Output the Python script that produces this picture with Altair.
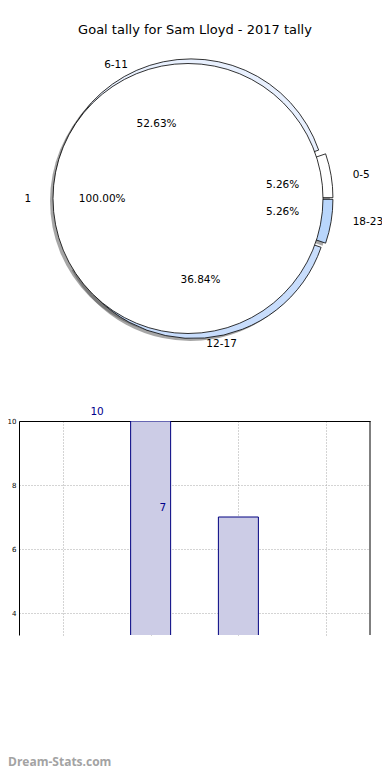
import altair as alt
import pandas as pd

# ---------------- data ----------------
title_text = "Goal tally for Sam Lloyd - 2017 tally"
watermark = "Dream-Stats.com"

slots = ["0-5", "6-11", "12-17", "18-23"]
goals = [1, 10, 7, 1]
slot_colors = ["#ffffff", "#e8f0fe", "#c8ddfc", "#b9d6fc"]

inner_labels = ["1"]
inner_values = [19]
inner_colors = ["#ffffff"]

bar_idx = [0, 1, 2, 3]
bar_ticks = [4, 6, 8, 10]
label_bars = [1, 2]          # bars whose value label is visible
label_x = [0.39, 1.14]       # where those labels sit on the x scale

# ---------------- geometry (style) ----------------
W, H = 351, 214
CX, CY = 174, -222.5      # pie centre, relative to bar plot origin
R = 135
EXP = 5
SX = 1.11
FONT = "DejaVu Sans"


def pie_df(labels, values, colors):
    return pd.DataFrame({"label": labels, "value": values, "color": colors,
                         "idx": list(range(len(labels)))})


def pie_base(df):
    return (
        alt.Chart(df)
        .transform_joinaggregate(total="sum(value)")
        .transform_window(cum="sum(value)", sort=[alt.SortField("idx")])
        .transform_calculate(s="2*PI*(datum.cum - datum.value)/datum.total")
        .transform_calculate(e="2*PI*datum.cum/datum.total")
        .transform_calculate(m="(datum.s + datum.e)/2")
        .transform_calculate(t0="PI/2 - datum.e")
        .transform_calculate(t1="PI/2 - datum.s")
        .transform_calculate(px=f"{CX} + {EXP}*cos(datum.m)")
        .transform_calculate(py=f"{CY} - {EXP}*sin(datum.m)")
        .transform_calculate(sx="datum.px - 3")
        .transform_calculate(sy="datum.py + 2.5")
        .transform_calculate(lx=f"{CX} + {SX}*({EXP} + 140.8)*cos(datum.m)")
        .transform_calculate(ly=f"{CY} - ({EXP} + 140.8)*sin(datum.m)")
        .transform_calculate(qx=f"{CX} + {SX}*({EXP} + 76.8)*cos(datum.m)")
        .transform_calculate(qy=f"{CY} - ({EXP} + 76.8)*sin(datum.m)")
        .transform_calculate(pct="format(100*datum.value/datum.total, '.2f') + '%'")
    )


def arc_enc(xf, yf):
    return dict(
        theta=alt.Theta("t0:Q", scale=None, stack=False),
        theta2="t1:Q",
        x=alt.X(f"{xf}:Q", scale=None, axis=None),
        y=alt.Y(f"{yf}:Q", scale=None, axis=None),
    )


outer = pie_base(pie_df(slots, goals, slot_colors))
inner = pie_base(pie_df(inner_labels, inner_values, inner_colors))

layers = []
# shadows
for base in (outer, inner):
    layers.append(base.mark_arc(outerRadius=R, fill="#4d4d4d", opacity=0.5)
                  .encode(**arc_enc("sx", "sy")))
# wedges
for base in (outer, inner):
    layers.append(base.mark_arc(outerRadius=R, stroke="black", strokeWidth=0.8)
                  .encode(fill=alt.Color("color:N", scale=None), **arc_enc("px", "py")))
# labels
for base in (outer, inner):
    layers.append(base.transform_filter("cos(datum.m) > 0")
                  .mark_text(align="left", baseline="middle", font=FONT, fontSize=10.5, color="black")
                  .encode(text="label:N", x=alt.X("lx:Q", scale=None, axis=None),
                          y=alt.Y("ly:Q", scale=None, axis=None)))
    layers.append(base.transform_filter("cos(datum.m) <= 0")
                  .mark_text(align="right", baseline="middle", font=FONT, fontSize=10.5, color="black")
                  .encode(text="label:N", x=alt.X("lx:Q", scale=None, axis=None),
                          y=alt.Y("ly:Q", scale=None, axis=None)))
    layers.append(base.mark_text(align="center", baseline="middle", font=FONT, fontSize=10.5, color="black")
                  .encode(text="pct:N", x=alt.X("qx:Q", scale=None, axis=None),
                          y=alt.Y("qy:Q", scale=None, axis=None)))

# ---------------- bar chart ----------------
bars_df = pd.DataFrame({"idx": bar_idx, "slot": slots, "goals": goals})
labels_df = pd.DataFrame({"pos": label_x, "goals": [goals[i] for i in label_bars]})

grid_kw = dict(grid=True, gridColor="#a8a8a8", gridDash=[1, 2], gridWidth=1)

bars = alt.Chart(bars_df).mark_bar(size=40, fill="#ccccE6", stroke="#000080",
                                   strokeWidth=1, clip=True).encode(
    x=alt.X("idx:Q", scale=alt.Scale(domain=[-0.5, 3.5], nice=False, zero=False, padding=0),
            axis=alt.Axis(orient="top", values=bar_idx, labels=False, ticks=False,
                          domainColor="black", domainWidth=1, title=None, **grid_kw)),
    y=alt.Y("goals:Q", scale=alt.Scale(domain=[3.3125, 10], nice=False, zero=False, padding=0),
            axis=alt.Axis(values=bar_ticks, labelFontSize=7, labelFont=FONT, labelColor="black",
                          labelPadding=3, ticks=False, domainColor="black", domainWidth=1,
                          title=None, **grid_kw)),
)

bar_text = alt.Chart(labels_df).transform_calculate(ty="datum.goals + 0.28").mark_text(
    align="center", baseline="middle", font=FONT, fontSize=10.5, color="#00008b"
).encode(x="pos:Q", y="ty:Q", text="goals:Q")

right_border = alt.Chart(pd.DataFrame({"k": [0]})).mark_rule(color="black", strokeWidth=1).encode(
    x=alt.value(W), y=alt.value(0), y2=alt.value(H))

title = alt.Chart(pd.DataFrame({"t": [title_text]})).mark_text(
    align="center", baseline="middle", font=FONT, fontSize=13, color="black"
).encode(text="t:N", x=alt.value(176), y=alt.value(-391))

wm = alt.Chart(pd.DataFrame({"t": [watermark]})).mark_text(
    align="left", baseline="alphabetic", font="Open Sans", fontSize=12, fontWeight="bold",
    color="#a3a3a3"
).encode(text="t:N", x=alt.value(-11), y=alt.value(345))

chart = alt.layer(bars, bar_text, right_border, *layers, title, wm).properties(
    width=W, height=H,
    autosize=alt.AutoSizeParams(type="none"),
    padding={"left": 11, "top": 413, "right": 12, "bottom": 137},
    background="white",
).configure_view(strokeWidth=0)

chart.save("out.html", embed_options={"renderer": "svg", "actions": False})
